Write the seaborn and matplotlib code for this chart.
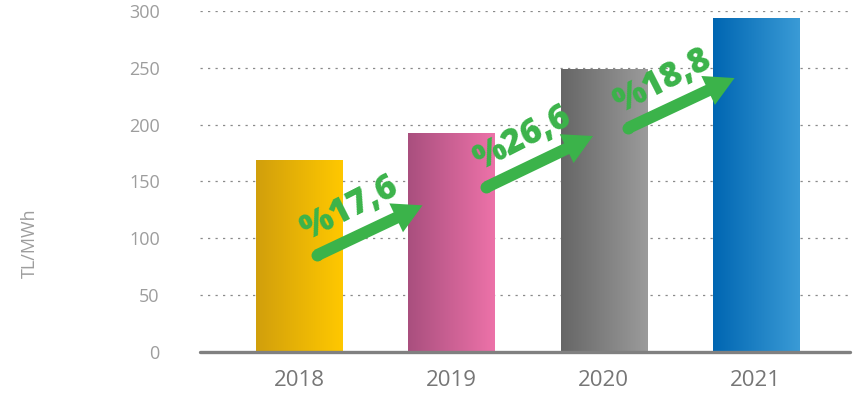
import numpy as np
import pandas as pd
import matplotlib
matplotlib.use("Agg")
import matplotlib.pyplot as plt
import seaborn as sns
from matplotlib.colors import LinearSegmentedColormap
from matplotlib.patches import FancyArrowPatch, ArrowStyle

# Average price per year (TL/MWh)
years = ["2018", "2019", "2020", "2021"]
prices = [169, 193, 249, 294]

# Horizontal gradient colours for each bar (left edge -> right edge)
left_colors = ["#D19F0C", "#A94F7E", "#666666", "#0066B2"]
right_colors = ["#FFC800", "#ED72A9", "#9B9B9B", "#3A9BD6"]

# Year-on-year growth annotations
growth_labels = ["%17,6", "%26,6", "%18,8"]
arrow_tails = [(0.115, 85), (1.23, 145), (2.16, 197)]
arrow_tips = [(0.81, 129), (1.93, 190), (2.86, 241)]
label_pos = [(0.33, 126), (1.465, 188), (2.39, 238)]

y_ticks = [0, 50, 100, 150, 200, 250, 300]

sns.set_theme(style="white")
plt.rcParams["font.family"] = ["Open Sans", "DejaVu Sans"]

GREEN = "#3BB34A"

fig = plt.figure(figsize=(8.57, 3.98), dpi=100)
ax = fig.add_axes([0.2334, 0.1156, 0.7585, 0.8568])

df = pd.DataFrame({"year": years, "price": prices})
sns.barplot(data=df, x="year", y="price", ax=ax, width=0.566,
            color="white", saturation=1, linewidth=0, zorder=2)

# Fill each bar with a left-to-right colour gradient
grad = np.linspace(0, 1, 256).reshape(1, -1)
for patch, c0, c1 in zip(ax.patches, left_colors, right_colors):
    x0, y0 = patch.get_x(), patch.get_y()
    w, h = patch.get_width(), patch.get_height()
    cmap = LinearSegmentedColormap.from_list("bar", [c0, c1])
    im = ax.imshow(grad, cmap=cmap, extent=[x0, x0 + w, y0, y0 + h],
                   aspect="auto", interpolation="bilinear", zorder=2)
    im.set_clip_path(patch)
    patch.set_facecolor("none")

ax.set_xlim(-0.652, 3.619)
ax.set_ylim(0, 300)
ax.set_yticks(y_ticks)

# Dotted horizontal grid and a solid baseline
ax.set_axisbelow(True)
ax.yaxis.grid(True, color="#8a8a8a", linestyle=(0, (1.8, 4.2)), linewidth=0.9)
ax.xaxis.grid(False)
for side in ["top", "right", "left", "bottom"]:
    ax.spines[side].set_visible(False)
ax.axhline(0, color="#808080", lw=2.4, zorder=4, clip_on=False)

ax.tick_params(axis="y", length=0, pad=29, labelsize=13, labelcolor="#9d9d9d")
ax.tick_params(axis="x", length=0, pad=13, labelsize=16, labelcolor="#767676")
ax.set_xlabel("")
ax.set_ylabel("")
fig.text(29.5 / 857, 1 - 243 / 398, "TL/MWh", rotation=90, ha="center",
         va="center", fontsize=13, color="#9d9d9d")

# Growth arrows with rounded tails
style = ArrowStyle("Simple", head_length=21, head_width=23, tail_width=8.6)
for (tx, ty), (hx, hy), (lx, ly), lab in zip(arrow_tails, arrow_tips,
                                            label_pos, growth_labels):
    arr = FancyArrowPatch((tx, ty), (hx, hy), arrowstyle=style,
                          mutation_scale=1, shrinkA=0, shrinkB=0,
                          color=GREEN, lw=0, zorder=5)
    ax.add_patch(arr)
    ax.plot([tx], [ty], marker="o", markersize=8.6, color=GREEN,
            markeredgewidth=0, zorder=5)
    ax.text(lx, ly, lab, rotation=27, rotation_mode="anchor", ha="center",
            va="center", fontsize=25, fontweight="heavy", color=GREEN, zorder=6)

fig.savefig("out.png", dpi=100)
